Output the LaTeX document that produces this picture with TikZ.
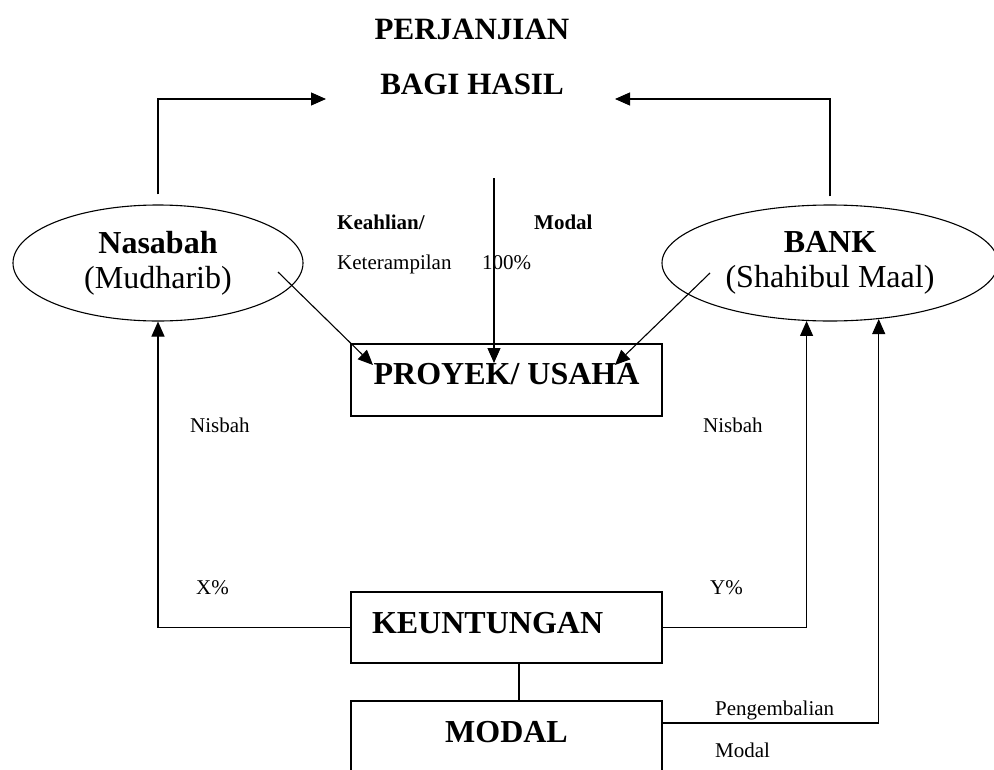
\documentclass[tikz,border=0pt]{standalone}
\usepackage{fontspec}
\setmainfont{Liberation Serif}
\usetikzlibrary{shapes.geometric,arrows.meta}
\begin{document}
\begin{tikzpicture}[x=1pt,y=-1pt,
  ln/.style={line width=1.1pt},
  arr/.style={ln,-{Triangle[length=15pt,width=13pt]}},
  oval/.style={ellipse,draw,line width=1.1pt,minimum height=116pt,inner sep=0pt,align=center,font=\fontsize{32}{35}\selectfont},
  box/.style={draw,line width=1.1pt,minimum width=311pt,minimum height=72pt,inner sep=0pt,font=\bfseries\fontsize{32}{38}\selectfont},
  big/.style={font=\bfseries\fontsize{31}{37}\selectfont,anchor=base,inner sep=0pt},
  small/.style={font=\fontsize{21}{25}\selectfont,anchor=base west,inner sep=0pt},
  smallb/.style={font=\bfseries\fontsize{21}{25}\selectfont,anchor=base west,inner sep=0pt}]
\useasboundingbox (0,0) rectangle (994,769);

% title
\node[big] (t1) at (472,39) {PERJANJIAN};
\node[big] (t2) at (472,94) {BAGI HASIL};
\coordinate (tl) at (326,99);
\coordinate (tr) at (615,99);
\coordinate (tc) at (494,178);

% parties
\node[oval,minimum width=290pt] (nas) at (158,263) {{\bfseries Nasabah}\\(Mudharib)};
\node[oval,minimum width=336pt] (bank) at (830,263) {{\bfseries BANK}\\(Shahibul Maal)};

% boxes
\node[box,text height=22pt,text depth=14pt] (proj) at (506.5,380) {PROYEK/ USAHA};
\node[box,minimum height=71pt,text height=22pt,text depth=11pt,text width=269pt,inner xsep=21pt,align=left] (keu) at (506.5,627.5) {KEUNTUNGAN};
\node[box,text height=22pt,text depth=12pt] (mod) at (506.5,737) {MODAL};

% labels
\node[smallb] (kea) at (337,229) {Keahlian/};
\node[small] (ket) at (337,269) {Keterampilan};
\node[smallb] (mdl) at (534,229) {Modal};
\node[small] (pct) at (482,269) {100\%};
\node[small] (nl) at (190,432) {Nisbah};
\node[small] (nr) at (703,432) {Nisbah};
\node[small] (xp) at (196,594) {X\%};
\node[small] (yp) at (710,594) {Y\%};
\node[small] (pg) at (715,715) {Pengembalian};
\node[small] (pm) at (715,757) {Modal};

% connectors to title
\draw[arr] ([yshift=10pt]nas.north) |- (tl);
\draw[arr] ([yshift=8pt]bank.north) |- (tr);
\draw[arr] (tc) -- (494,363);

% into project
\coordinate (dl1) at (278,272);
\coordinate (dl2) at (373,365);
\coordinate (dr1) at (710,273);
\coordinate (dr2) at (615,365);
\draw[arr] (dl1) -- (dl2);
\draw[arr] (dr1) -- (dr2);

% profit distribution
\draw[arr] (keu.west) -| (nas.south);
\draw[arr] (keu.east) -| (bank.-112.7);
\draw[ln] ([xshift=12.5pt]keu.south) -- ([xshift=12.5pt]mod.north);
\draw[arr] ([yshift=14pt]mod.east) -| (bank.-49.2);
\end{tikzpicture}
\end{document}
